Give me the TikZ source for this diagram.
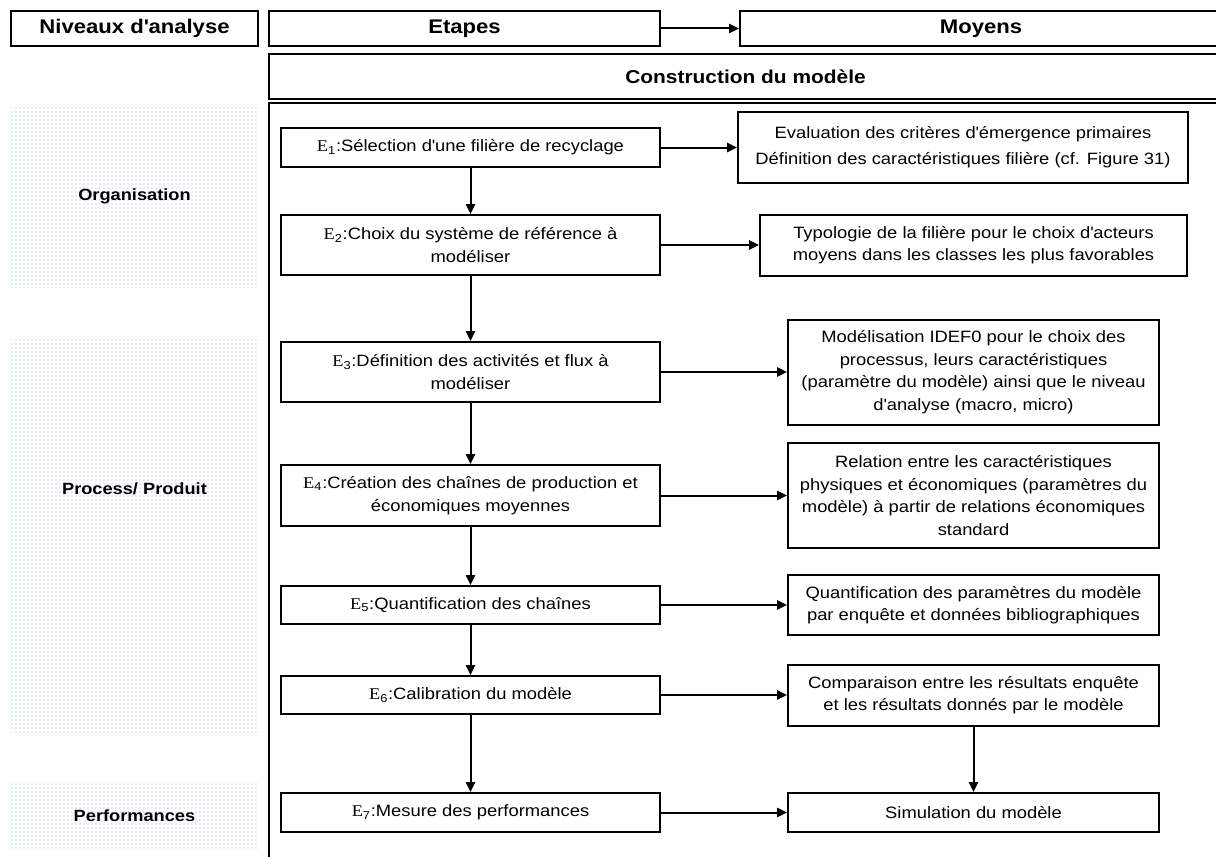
\documentclass[tikz,border=0pt]{standalone}
\usepackage{fontspec}
\setmainfont{Liberation Sans}[FakeStretch=1.12]
\newfontfamily\eserif{Liberation Serif}[FakeStretch=1.12]
\usetikzlibrary{arrows.meta,patterns}
\definecolor{dotblue}{RGB}{120,180,245}
\newcommand{\Ei}[1]{{\eserif E}\textsubscript{#1}}
\newcommand{\ap}{\textquotesingle}
\begin{document}
\begin{tikzpicture}[x=0.75pt,y=-0.75pt,
 box/.style={draw, line width=1.5pt, inner sep=2pt, align=center, font=\fontsize{12.3}{17}\selectfont},
 stepbox/.style={box, minimum width=284.25pt},
 meanbox/.style={box},
 hdr/.style={draw, line width=1.5pt, inner sep=0pt, font=\fontsize{14.8}{17}\selectfont\bfseries, minimum height=26.25pt},
 lvl/.style={pattern=dots, pattern color=dotblue, inner sep=0pt, minimum width=185.25pt},
 lvltext/.style={font=\fontsize{12.2}{14}\selectfont\bfseries, inner sep=0pt},
 arr/.style={line width=1.5pt, -{Triangle[length=7.5pt,width=7pt]}}]
\useasboundingbox (0,0) rectangle (1216,856);
\clip (0,0) rectangle (1216,856);

% level backgrounds
\node[lvl, minimum height=136.5pt] (orgbg) at (134.5,196) {};
\node[lvl, minimum height=296.25pt] (procbg) at (134.5,535.5) {};
\node[lvl, minimum height=48.75pt] (perfbg) at (134.5,815.5) {};
\node[lvltext] (org) at (134.5,196) {Organisation};
\node[lvltext] (proc) at (134.5,489) {Process/ Produit};
\node[lvltext] (perf) at (134.5,815.5) {Performances};

% headers
\node[hdr, minimum width=185.25pt] (niv) at (134.5,28.5) {Niveaux d\ap analyse};
\node[hdr, minimum width=293.25pt] (eta) at (464.5,28.5) {Etapes};
\node[hdr, minimum width=361.5pt] (moy) at (981,28.5) {Moyens};
\draw[arr] (eta.east) -- (moy.west);
\node[hdr, minimum width=714.75pt, minimum height=33.75pt, font=\fontsize{14}{17}\selectfont\bfseries] (cons) at (745.5,76.5) {Construction du modèle};

% main frame
\draw[line width=1.5pt] (269,870) -- (269,103) -- (1222,103) -- (1222,870);

% steps
\node[stepbox, minimum height=29.25pt] (e1) at (470.5,147.5) {\Ei{1}:Sélection d\ap une filière de recyclage};
\node[stepbox, minimum height=45pt] (e2) at (470.5,245) {\Ei{2}:Choix du système de référence à\\modéliser};
\node[stepbox, minimum height=45pt] (e3) at (470.5,372) {\Ei{3}:Définition des activités et flux à\\modéliser};
\node[stepbox, minimum height=45.75pt] (e4) at (470.5,495.5) {\Ei{4}:Création des chaînes de production et\\économiques moyennes};
\node[stepbox, minimum height=28.5pt] (e5) at (470.5,605) {\Ei{5}:Quantification des chaînes};
\node[stepbox, minimum height=28.5pt] (e6) at (470.5,695) {\Ei{6}:Calibration du modèle};
\node[stepbox, minimum height=29.25pt] (e7) at (470.5,812.5) {\Ei{7}:Mesure des performances};

% means
\node[meanbox, minimum width=337.5pt, minimum height=53.25pt] (m1) at (963,147.5) {Evaluation des critères d\ap émergence primaires\\[2.5pt]Définition des caractéristiques filière (cf. Figure 31)};
\node[meanbox, minimum width=320.25pt, minimum height=45.75pt] (m2) at (973.5,245) {Typologie de la filière pour le choix d\ap acteurs\\moyens dans les classes les plus favorables};
\node[meanbox, minimum width=278.25pt, minimum height=78.75pt] (m3) at (973.5,372) {Modélisation IDEF0 pour le choix des\\processus, leurs caractéristiques\\(paramètre du modèle) ainsi que le niveau\\d\ap analyse (macro, micro)};
\node[meanbox, minimum width=278.25pt, minimum height=78.75pt] (m4) at (973.5,495.5) {Relation entre les caractéristiques\\physiques et économiques (paramètres du\\modèle) à partir de relations économiques\\standard};
\node[meanbox, minimum width=278.25pt, minimum height=45pt] (m5) at (973.5,605) {Quantification des paramètres du modèle\\par enquête et données bibliographiques};
\node[meanbox, minimum width=278.25pt, minimum height=45.75pt] (m6) at (973.5,695) {Comparaison entre les résultats enquête\\et les résultats donnés par le modèle};
\node[meanbox, minimum width=278.25pt, minimum height=29.25pt] (m7) at (973.5,812.5) {Simulation du modèle};

% vertical arrows
\draw[arr] (e1.south) -- (e2.north);
\draw[arr] (e2.south) -- (e3.north);
\draw[arr] (e3.south) -- (e4.north);
\draw[arr] (e4.south) -- (e5.north);
\draw[arr] (e5.south) -- (e6.north);
\draw[arr] (e6.south) -- (e7.north);
\draw[arr] (m6.south) -- (m7.north);

% horizontal arrows
\draw[arr] (e1.east) -- (m1.west);
\draw[arr] (e2.east) -- (m2.west);
\draw[arr] (e3.east) -- (m3.west);
\draw[arr] (e4.east) -- (m4.west);
\draw[arr] (e5.east) -- (m5.west);
\draw[arr] (e6.east) -- (m6.west);
\draw[arr] (e7.east) -- (m7.west);
\end{tikzpicture}
\end{document}
